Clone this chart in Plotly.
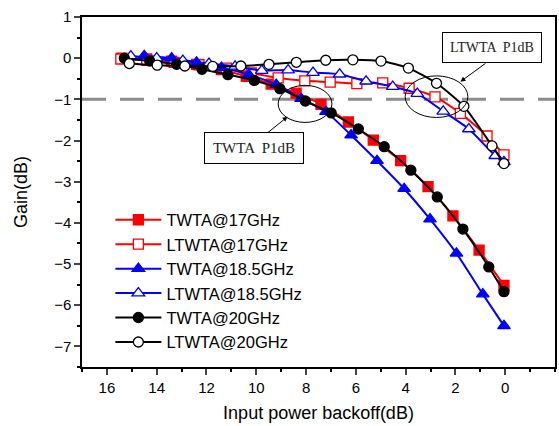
import plotly.graph_objects as go

# ---- data ----
twta17_x = [15.4, 14.4, 13.4, 12.4, 11.4, 10.4, 9.4, 8.4, 7.4, 6.3, 5.3, 4.2, 3.1, 2.1, 1.05, 0.05]
twta17_y = [0.0, -0.02, -0.07, -0.15, -0.28, -0.44, -0.63, -0.85, -1.12, -1.55, -1.99, -2.49, -3.12, -3.83, -4.66, -5.52]

ltwta17_x = [15.44, 14.4, 13.3, 12.3, 11.2, 10.2, 9.12, 8.05, 7.03, 5.96, 4.92, 3.86, 2.82, 1.8, 0.73, 0.05]
ltwta17_y = [-0.02, -0.05, -0.1, -0.16, -0.24, -0.36, -0.48, -0.55, -0.58, -0.62, -0.6, -0.73, -0.94, -1.34, -1.89, -2.35]

twta185_x = [14.5, 13.4, 12.4, 11.4, 10.3, 9.2, 8.2, 7.2, 6.19, 5.15, 4.06, 3.02, 1.96, 0.9, 0.05]
twta185_y = [0.06, 0.0, -0.1, -0.23, -0.4, -0.64, -0.98, -1.3, -1.87, -2.49, -3.17, -3.91, -4.74, -5.73, -6.5]

ltwta185_x = [15.04, 14.0, 12.95, 11.9, 10.85, 9.78, 8.72, 7.72, 6.65, 5.59, 4.52, 3.53, 2.49, 1.46, 0.4, 0.05]
ltwta185_y = [0.05, 0.0, -0.06, -0.13, -0.2, -0.3, -0.29, -0.35, -0.39, -0.56, -0.69, -0.86, -1.29, -1.72, -2.37, -2.52]

twta20_x = [15.3, 14.28, 13.2, 12.18, 11.14, 10.08, 9.05, 8.03, 6.99, 5.9, 4.86, 3.79, 2.73, 1.7, 0.66, 0.05]
twta20_y = [0.0, -0.07, -0.15, -0.27, -0.4, -0.54, -0.74, -1.04, -1.33, -1.72, -2.15, -2.72, -3.37, -4.15, -5.07, -5.67]

ltwta20_x = [15.1, 13.98, 12.87, 11.75, 10.62, 9.49, 8.39, 7.21, 6.12, 4.99, 3.89, 2.76, 1.66, 0.53, 0.05]
ltwta20_y = [-0.13, -0.17, -0.19, -0.2, -0.19, -0.15, -0.1, -0.05, -0.04, -0.07, -0.24, -0.61, -1.17, -2.13, -2.56]

x_ticks = [16, 14, 12, 10, 8, 6, 4, 2, 0]
y_ticks = [1, 0, -1, -2, -3, -4, -5, -6, -7]

RED = "#ff0000"
BLUE = "#0000ff"
BLACK = "#000000"

fig = go.Figure()

def add(x, y, name, color, symbol, filled):
    fig.add_trace(go.Scatter(
        x=x, y=y, name=name, mode="lines+markers",
        line=dict(color=color, width=2, shape="spline", smoothing=0.6),
        marker=dict(symbol=symbol, size=10 if symbol != "triangle-up" else 11,
                    color=color if filled else "white",
                    line=dict(color=color, width=1.3)),
    ))

add(twta17_x, twta17_y, "TWTA@17GHz", RED, "square", True)
add(ltwta17_x, ltwta17_y, "LTWTA@17GHz", RED, "square", False)
add(twta185_x, twta185_y, "TWTA@18.5GHz", BLUE, "triangle-up", True)
add(ltwta185_x, ltwta185_y, "LTWTA@18.5GHz", BLUE, "triangle-up", False)
add(twta20_x, twta20_y, "TWTA@20GHz", BLACK, "circle", True)
add(ltwta20_x, ltwta20_y, "LTWTA@20GHz", BLACK, "circle", False)

# dashed -1 dB reference
fig.add_shape(type="line", xref="paper", x0=0, x1=1, yref="y", y0=-1, y1=-1,
              line=dict(color="#8c8c8c", width=3, dash="24px,14px"), layer="below")

# ellipses
fig.add_shape(type="circle", x0=9.12, x1=6.96, y0=-1.56, y1=-0.66,
              line=dict(color="black", width=1))
fig.add_shape(type="circle", x0=4.02, x1=1.5, y0=-1.44, y1=-0.43,
              line=dict(color="black", width=1))

serif = "Liberation Serif"
fig.add_annotation(x=8.74, y=-1.42, ax=9.6, ay=-1.84, xref="x", yref="y", axref="x", ayref="y",
                   text="", showarrow=True, arrowhead=2, arrowsize=1, arrowwidth=1, arrowcolor="black")
fig.add_annotation(x=10.1, y=-2.19, xref="x", yref="y", text="TWTA  P1dB", showarrow=False,
                   font=dict(family=serif, size=15, color="#222"), bordercolor="black", borderwidth=1,
                   borderpad=7, bgcolor="white", width=84)
fig.add_annotation(x=1.8, y=-0.57, ax=0.73, ay=-0.1, xref="x", yref="y", axref="x", ayref="y",
                   text="", showarrow=True, arrowhead=2, arrowsize=1, arrowwidth=1, arrowcolor="black")
fig.add_annotation(x=0.55, y=0.27, xref="x", yref="y", text="LTWTA  P1dB", showarrow=False,
                   font=dict(family=serif, size=14, color="#222"), bordercolor="black", borderwidth=1,
                   borderpad=7, bgcolor="white", width=84)

axis_font = dict(family="Arial, Liberation Sans", size=15, color="black")
fig.update_layout(
    width=559, height=426,
    margin=dict(l=82, r=2, t=17, b=59),
    plot_bgcolor="white", paper_bgcolor="white",
    font=dict(family="Arial, Liberation Sans", color="black"),
    legend=dict(x=0.06, y=0.47, xanchor="left", yanchor="top", bgcolor="rgba(0,0,0,0)",
                font=dict(size=16.5, family="Arial, Liberation Sans"), itemwidth=46,
                tracegroupgap=0),
    xaxis=dict(range=[17, -2], tickvals=x_ticks, ticks="outside", ticklen=6, tickwidth=1.5,
               showline=True, linecolor="black", linewidth=1.5, mirror=True, showgrid=False,
               zeroline=False, tickfont=axis_font,
               minor=dict(dtick=1, ticks="outside", ticklen=3, tickwidth=1.5, tickcolor="black"),
               title=dict(text="Input power backoff(dB)", font=dict(size=18), standoff=12)),
    yaxis=dict(range=[-7.5, 1], tickvals=y_ticks, ticks="outside", ticklen=6, tickwidth=1.5,
               showline=True, linecolor="black", linewidth=1.5, mirror=True, showgrid=False,
               zeroline=False, tickfont=axis_font,
               minor=dict(dtick=0.5, ticks="outside", ticklen=3, tickwidth=1.5, tickcolor="black"),
               title=dict(text="Gain(dB)", font=dict(size=18), standoff=22)),
)

fig.write_html("out.html")
